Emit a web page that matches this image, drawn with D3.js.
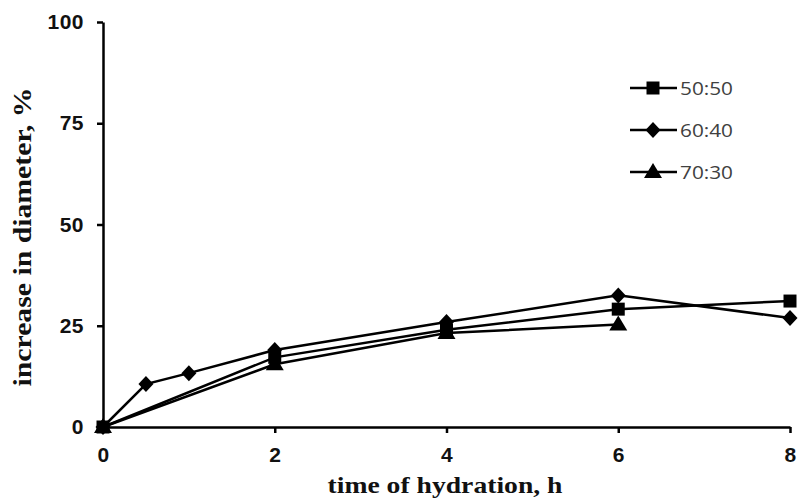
<!DOCTYPE html>
<html>
<head>
<meta charset="utf-8">
<script src="https://cdn.jsdelivr.net/npm/d3@7"></script>
<style>
  html, body { margin: 0; padding: 0; background: #fff; }
  svg { display: block; }
</style>
</head>
<body>
<svg id="chart" width="798" height="501"></svg>
<script>
// Hydration time (h) and diameter increase (%) for three blend ratios
const series5050X = [0, 2, 4, 6, 8];
const series5050Y = [0, 17.2, 24.0, 29.1, 31.1];
const series6040X = [0, 0.5, 1, 2, 4, 6, 8];
const series6040Y = [0, 10.6, 13.3, 19.0, 25.9, 32.5, 26.9];
const series7030X = [0, 2, 4, 6];
const series7030Y = [0, 15.5, 23.2, 25.3];
const seriesNames = ["50:50", "60:40", "70:30"];
const xTicks = [0, 2, 4, 6, 8];
const yTicks = [0, 25, 50, 75, 100];

const svg = d3.select("#chart");
const x = d3.scaleLinear().domain([0, 8]).range([103, 790]);
const y = d3.scaleLinear().domain([0, 100]).range([427, 22]);

// Marker shapes: filled square, wide diamond, flat triangle
const markSquare = { draw(ctx) { ctx.rect(-6.5, -6.5, 13, 13); } };
const markDiamond = { draw(ctx) {
  ctx.moveTo(0, -8); ctx.lineTo(7.5, 0); ctx.lineTo(0, 8); ctx.lineTo(-7.5, 0); ctx.closePath();
} };
const markTriangle = { draw(ctx) {
  ctx.moveTo(0, -9); ctx.lineTo(9, 6); ctx.lineTo(-9, 6); ctx.closePath();
} };

const series = [
  { name: seriesNames[0], xs: series5050X, ys: series5050Y, symbol: markSquare },
  { name: seriesNames[1], xs: series6040X, ys: series6040Y, symbol: markDiamond },
  { name: seriesNames[2], xs: series7030X, ys: series7030Y, symbol: markTriangle }
];

// Axes
const yAxis = d3.axisLeft(y).tickValues(yTicks).tickSize(6).tickSizeOuter(0);
const xAxis = d3.axisBottom(x).tickValues(xTicks).tickSize(6).tickSizeOuter(0);

const gy = svg.append("g").attr("transform", `translate(${x(0)},0)`).call(yAxis);
const gx = svg.append("g").attr("transform", `translate(0,${y(0)})`).call(xAxis);

[gx, gy].forEach(g => {
  g.select(".domain").attr("stroke", "#000").attr("stroke-width", 2.5);
  g.selectAll(".tick line").attr("stroke", "#000").attr("stroke-width", 2.5);
  g.selectAll(".tick text")
    .attr("font-family", "'Liberation Sans', Arial, sans-serif")
    .attr("font-weight", "bold")
    .attr("font-size", 21)
    .attr("letter-spacing", 0.5)
    .attr("fill", "#111");
});
gy.selectAll(".tick text").attr("x", -19);
gx.selectAll(".tick text").attr("y", 20);

// Axis titles
svg.append("text")
  .attr("x", 445).attr("y", 493)
  .attr("text-anchor", "middle")
  .attr("font-family", "'Liberation Serif', 'Times New Roman', serif")
  .attr("font-weight", "bold")
  .attr("font-size", 23)
  .attr("textLength", 235)
  .attr("lengthAdjust", "spacingAndGlyphs")
  .attr("fill", "#111")
  .text("time of hydration, h");

svg.append("text")
  .attr("transform", "translate(31,237) rotate(-90)")
  .attr("text-anchor", "middle")
  .attr("font-family", "'Liberation Serif', 'Times New Roman', serif")
  .attr("font-weight", "bold")
  .attr("font-size", 25)
  .attr("textLength", 299)
  .attr("lengthAdjust", "spacingAndGlyphs")
  .attr("fill", "#111")
  .text("increase in diameter, %");

// Lines and markers
const line = d3.line().x(d => x(d[0])).y(d => y(d[1]));

series.forEach(s => {
  const pts = s.xs.map((v, i) => [v, s.ys[i]]);
  svg.append("path")
    .datum(pts)
    .attr("d", line)
    .attr("fill", "none")
    .attr("stroke", "#000")
    .attr("stroke-width", 2.5);
  svg.append("g").selectAll("path")
    .data(pts)
    .join("path")
    .attr("transform", d => `translate(${x(d[0])},${y(d[1])})`)
    .attr("d", d3.symbol().type(s.symbol))
    .attr("fill", "#000");
});

// Legend
const legend = svg.append("g");
series.forEach((s, i) => {
  const ly = 88 + i * 42;
  legend.append("line")
    .attr("x1", 630).attr("x2", 677)
    .attr("y1", ly).attr("y2", ly)
    .attr("stroke", "#000").attr("stroke-width", 2.5);
  legend.append("path")
    .attr("transform", `translate(653,${ly})`)
    .attr("d", d3.symbol().type(s.symbol))
    .attr("fill", "#000");
  legend.append("text")
    .attr("x", 680).attr("y", ly + 7)
    .attr("font-family", "'Open Sans', 'Noto Sans', sans-serif")
    .attr("font-size", 18)
    .attr("textLength", 53)
    .attr("lengthAdjust", "spacingAndGlyphs")
    .attr("fill", "#404040")
    .text(s.name);
});
</script>
</body>
</html>
